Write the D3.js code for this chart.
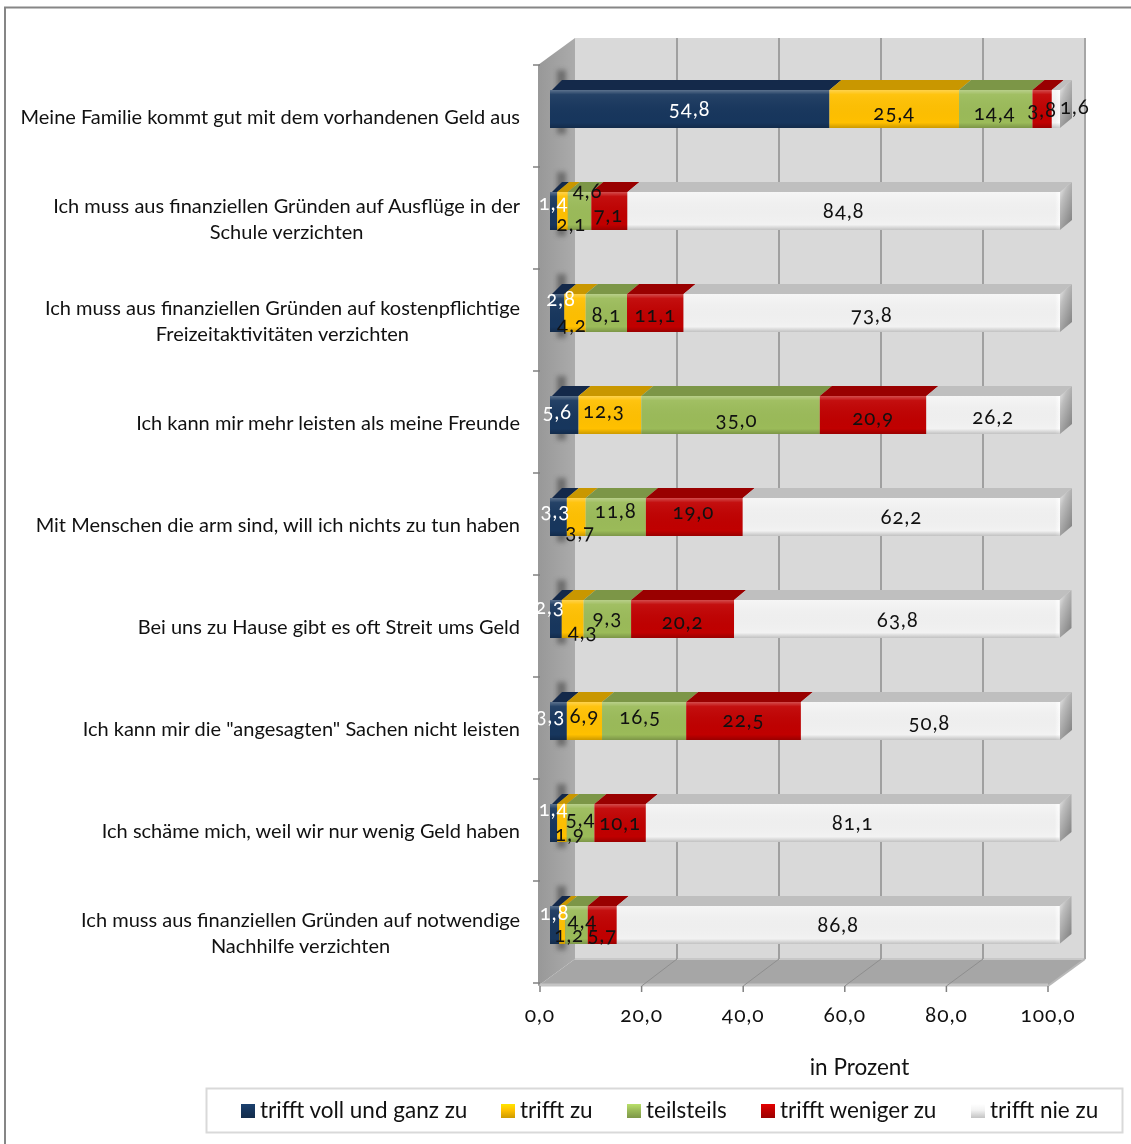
<!DOCTYPE html>
<html><head><meta charset="utf-8">
<script src="https://cdn.jsdelivr.net/npm/d3@7"></script>
<style>
html,body{margin:0;padding:0;background:#fff}
svg{display:block;filter:blur(0.35px)}
text{font-family:Lato,"Open Sans",sans-serif;font-feature-settings:"onum" 1,"lnum" 0;fill:#111}
</style></head><body>
<script>
const categories=[
 ["Meine Familie kommt gut mit dem vorhandenen Geld aus"],
 ["Ich muss aus finanziellen Gründen auf Ausflüge in der","Schule verzichten"],
 ["Ich muss aus finanziellen Gründen auf kostenpflichtige","Freizeitaktivitäten verzichten"],
 ["Ich kann mir mehr leisten als meine Freunde"],
 ["Mit Menschen die arm sind, will ich nichts zu tun haben"],
 ["Bei uns zu Hause gibt es oft Streit ums Geld"],
 ["Ich kann mir die \"angesagten\" Sachen nicht leisten"],
 ["Ich schäme mich, weil wir nur wenig Geld haben"],
 ["Ich muss aus finanziellen Gründen auf notwendige","Nachhilfe verzichten"]
];
const seriesNames=["trifft voll und ganz zu","trifft zu","teilsteils","trifft weniger zu","trifft nie zu"];
const vollUndGanz=[54.8,1.4,2.8,5.6,3.3,2.3,3.3,1.4,1.8];
const trifftZu=[25.4,2.1,4.2,12.3,3.7,4.3,6.9,1.9,1.2];
const teilsteils=[14.4,4.6,8.1,35.0,11.8,9.3,16.5,5.4,4.4];
const wenigerZu=[3.8,7.1,11.1,20.9,19.0,20.2,22.5,10.1,5.7];
const nieZu=[1.6,84.8,73.8,26.2,62.2,63.8,50.8,81.1,86.8];
const seriesValues=[vollUndGanz,trifftZu,teilsteils,wenigerZu,nieZu];
const xTicks=[0,20,40,60,80,100];

// styling
const frontColors=["#17365d","#ffc000","#9bbb59","#c00000","#f2f2f2"];
const topColors=["#14294a","#c99700","#7c9647","#990000","#bfbfbf"];
const labelColors=["#fff","#111","#111","#111","#111"];
// hand placement of the data labels, per row and series: [dx, dy] from the segment centre
const labelNudges=[
 [[0,0],[0,4],[-1,4],[0,1],[19,-2]],
 [[0,-8],[9,13],[8,-20],[-1,4],[0,0]],
 [[4,-14],[-3,12],[0,2],[0,2],[0,2]],
 [[-7,-3],[-6,-4],[6,5],[0,3],[0,2]],
 [[-3,-6],[4,15],[0,-6],[-1,-5],[0,0]],
 [[-6,-12],[10,13],[0,-1],[0,3],[1,1]],
 [[-8,-5],[0,-5],[-4,-4],[0,-1],[-1,2]],
 [[0,-14],[8,11],[0,-4],[0,0],[0,0]],
 [[0,-12],[7,10],[6,-4],[0,10],[0,0]]
];

const W=1131,H=1144;
const fmt=v=>v.toFixed(1).replace(".",",");
const svg=d3.select("body").append("svg").attr("width",W).attr("height",H);
const defs=svg.append("defs");

const lin=(id,x2,y2,stops)=>{
  const g=defs.append("linearGradient").attr("id",id).attr("x1",0).attr("y1",0).attr("x2",x2).attr("y2",y2);
  stops.forEach(s=>g.append("stop").attr("offset",s[0]).attr("stop-color",s[1]).attr("stop-opacity",s[2]===undefined?1:s[2]));
};
lin("gLeft",1,0,[[0,"#989898"],[1,"#ababab"]]);
lin("gSide",.7,1,[[0,"#f0f0f0"],[.35,"#bdbdbd"],[1,"#858585"]]);
lin("gOver",0,1,[[0,"#fff",.3],[.12,"#fff",.06],[.86,"#000",0],[1,"#000",.2]]);
lin("gEnd",1,0,[[0,"#fff",0],[1,"#fff",.9]]);
frontColors.forEach((c,i)=>lin("gLeg"+i,0,1,[[0,d3.color(c).brighter(.5).formatHex()],[.45,c],[1,d3.color(c).darker(.6).formatHex()]]));
defs.append("filter").attr("id","blur").attr("x","-50%").attr("y","-50%").attr("width","200%").attr("height","200%")
  .append("feGaussianBlur").attr("stdDeviation",2.5);

// outer chart frame
svg.append("rect").attr("x",5).attr("y",7.5).attr("width",W).attr("height",H).attr("fill","#fff").attr("stroke","#868686").attr("stroke-width",2);

// scales: floor front edge, back wall, bar front face
const xFront=d3.scaleLinear().domain([0,100]).range([540,1048]);
const xBack=d3.scaleLinear().domain([0,100]).range([575,1085]);
const xBar=d3.scaleLinear().domain([0,100]).range([550,1060]);
const rows=d3.range(categories.length);
const yBand=d3.scaleBand().domain(rows).range([65,983]);
const barH=38,barOff=25,depthX=12,depthY=10;
const wallTop=38,wallBot=959,floorY=986;
const poly=p=>p.map(q=>q.join(",")).join(" ");

// walls and floor
svg.append("rect").attr("x",xBack(0)).attr("y",wallTop).attr("width",xBack(100)-xBack(0)).attr("height",wallBot-wallTop).attr("fill","#d9d9d9");
svg.append("polygon").attr("points",poly([[538,floorY],[xFront(100),floorY],[xBack(100),wallBot],[xBack(0),wallBot]])).attr("fill","#a6a6a6");
svg.append("polygon").attr("points",poly([[538,65],[xBack(0),wallTop],[xBack(0),wallBot],[538,floorY]])).attr("fill","url(#gLeft)");
svg.append("line").attr("x1",xFront(0)).attr("x2",xFront(100)).attr("y1",floorY-1).attr("y2",floorY-1).attr("stroke","#c4c4c4").attr("stroke-width",3);
svg.append("line").attr("x1",xBack(0)).attr("x2",xBack(100)).attr("y1",wallBot).attr("y2",wallBot).attr("stroke","#c8c8c8").attr("stroke-width",2);
svg.append("line").attr("x1",xBack(100)).attr("x2",xBack(100)).attr("y1",wallTop).attr("y2",wallBot).attr("stroke","#a6a6a6").attr("stroke-width",2);
svg.append("line").attr("x1",xBack(100)).attr("x2",xFront(100)).attr("y1",wallBot).attr("y2",floorY).attr("stroke","#b8b8b8").attr("stroke-width",2);

// gridlines
const grid=xTicks.slice(1,-1);
svg.selectAll(".gw").data(grid).join("line").attr("x1",xBack).attr("x2",xBack).attr("y1",wallTop).attr("y2",wallBot).attr("stroke","#a0a0a0").attr("stroke-width",2);
svg.selectAll(".gf").data(grid).join("line").attr("x1",xBack).attr("x2",xFront).attr("y1",wallBot).attr("y2",floorY).attr("stroke","#8e8e8e").attr("stroke-width",1);

// axis ticks
const tickStroke="#808080";
svg.selectAll(".xt").data(xTicks).join("line").attr("x1",xFront).attr("x2",xFront).attr("y1",floorY).attr("y2",floorY+6).attr("stroke",tickStroke).attr("stroke-width",1.5);
svg.selectAll(".yt").data(d3.range(categories.length+1)).join("line").attr("x1",533).attr("x2",540)
  .attr("y1",i=>yBand.range()[0]+i*yBand.step()).attr("y2",i=>yBand.range()[0]+i*yBand.step()).attr("stroke",tickStroke).attr("stroke-width",1.5);
svg.selectAll(".xl").data(xTicks).join("text").attr("x",xFront).attr("y",floorY+36).attr("text-anchor","middle")
  .attr("font-size",21).attr("letter-spacing",1).text(fmt);

// bars
rows.forEach(r=>{
  const y=yBand(r)+barOff, yt=y-depthY;
  const g=svg.append("g");
  g.append("rect").attr("x",xBar(0)+7).attr("y",yt-10).attr("width",9).attr("height",barH+depthY+16).attr("fill","#4a4a4a").attr("opacity",.6).attr("filter","url(#blur)");
  const cum=d3.cumsum(seriesValues.map(s=>s[r]));
  // side face at the right end
  const xe=xBar(cum[4]);
  g.append("polygon").attr("points",poly([[xe,y],[xe+depthX,yt],[xe+depthX,yt+barH],[xe,y+barH]])).attr("fill","url(#gSide)");
  seriesValues.forEach((s,k)=>{
    const x0=xBar(k?cum[k-1]:0),x1=xBar(cum[k]);
    g.append("polygon").attr("points",poly([[x0+(k?0:2),y],[x1,y],[x1+depthX,yt],[x0+depthX,yt]])).attr("fill",topColors[k]);
    g.append("rect").attr("x",x0).attr("y",y).attr("width",x1-x0).attr("height",barH).attr("fill",frontColors[k]);
  });
  g.append("rect").attr("x",xe-5).attr("y",y).attr("width",5).attr("height",barH).attr("fill","url(#gEnd)");
  g.append("rect").attr("x",xBar(0)).attr("y",y).attr("width",xe-xBar(0)).attr("height",barH).attr("fill","url(#gOver)");
});

// data labels
rows.forEach(r=>{
  const y=yBand(r)+barOff+barH/2, cum=d3.cumsum(seriesValues.map(s=>s[r]));
  seriesValues.forEach((s,k)=>{
    const c=xBar((k?cum[k-1]:0)+s[r]/2), n=labelNudges[r][k];
    svg.append("text").attr("x",c+n[0]).attr("y",y+n[1]).attr("dy","0.35em").attr("text-anchor","middle")
      .attr("font-size",20.5).attr("letter-spacing",1).style("fill",labelColors[k]).text(fmt(s[r]));
  });
});

// category labels
rows.forEach(r=>{
  const lines=categories[r], cy=yBand(r)+barOff+barH/2+8;
  const t=svg.append("text").attr("font-size",20);
  const ls=t.selectAll("tspan").data(lines).join("tspan").text(d=>d).attr("y",(d,i)=>cy+(i-(lines.length-1)/2)*26).attr("dy","0.35em");
  const widest=d3.max(ls.nodes(),n=>n.getComputedTextLength());
  ls.attr("x",520-widest/2).attr("text-anchor","middle");
});

// axis title
svg.append("text").attr("x",859.5).attr("y",1067).attr("dy","0.35em").attr("text-anchor","middle").attr("font-size",22.5).text("in Prozent");

// legend
svg.append("rect").attr("x",206.5).attr("y",1088.5).attr("width",916).attr("height",44).attr("fill","#fff").attr("stroke","#d9d9d9").attr("stroke-width",2);
const legendX=[241,501,627,761,971];
seriesNames.forEach((n,i)=>{
  svg.append("rect").attr("x",legendX[i]).attr("y",1104).attr("width",14).attr("height",14).attr("fill","url(#gLeg"+i+")");
  svg.append("text").attr("x",legendX[i]+19).attr("y",1110).attr("dy","0.35em").attr("font-size",22.5).text(n);
});
</script></body></html>
